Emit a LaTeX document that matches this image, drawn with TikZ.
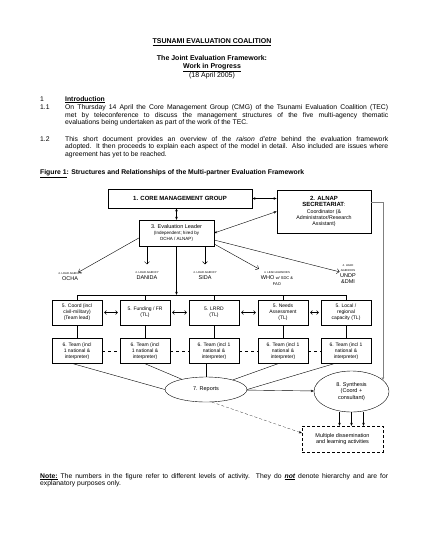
\documentclass[tikz,border=0pt]{standalone}
\usepackage{fontspec}
\setmainfont{Liberation Sans}
\usetikzlibrary{shapes.geometric,arrows.meta}
\newcommand\sz[2]{\fontsize{#1}{#2}\selectfont}
\newcommand\lead[1]{{\sz{2.8}{3.2}4. LEAD #1}}
\tikzset{
  box/.style={draw,align=center,inner sep=1pt,minimum width=50pt,minimum height=25pt,font=\sz{5}{6}},
  bigbox/.style={draw,line width=0.8pt,align=center,inner sep=1pt},
  agency/.style={align=center,inner sep=0.5pt,font=\sz{5.5}{6}},
  para/.style={anchor=north west,inner sep=0pt,text width=323pt,align=justify,font=\sz{6.8}{7.6}},
  txt/.style={anchor=base west,inner sep=0pt,font=\sz{6.8}{7.6}},
  open/.style={-{Straight Barb[length=2.5pt]}},
  pair/.style={{Straight Barb[length=2pt]}-{Straight Barb[length=2pt]},shorten <=2pt,shorten >=2pt},
}
\begin{document}
\begin{tikzpicture}[x=1pt,y=-1pt,>={Stealth[length=3pt,width=2.5pt]},thin]
\path[fill=white] (0,0) rectangle (425,550);
% heading
\node[anchor=base,inner sep=0pt,font=\bfseries\sz{7}{8}] (title) at (212,43.5) {\underline{TSUNAMI EVALUATION COALITION}};
\node[anchor=base,inner sep=0pt,font=\bfseries\sz{7}{8}] (sub) at (212,60.5) {The Joint Evaluation Framework:};
\node[anchor=base,inner sep=0pt,font=\bfseries\sz{7}{8}] (wip) at (212,68.5) {\underline{Work in Progress}};
\node[anchor=base,inner sep=0pt,font=\sz{7}{8}] (date) at (212,77) {(18 April 2005)};
% section 1
\node[txt] (n1) at (40,101) {1};
\node[txt] (intro) at (65,101) {\textbf{\underline{Introduction}}};
\node[txt] (n11) at (40,109.5) {1.1};
\node[para] (p11) at (65,104.5) {On Thursday 14 April the Core Management Group (CMG) of the Tsunami Evaluation Coalition (TEC)\linebreak
  met by teleconference to discuss the management structures of the five multi-agency thematic\linebreak
  evaluations being undertaken as part of the work of the TEC.};
\node[txt] (n12) at (40,141) {1.2};
\node[para] (p12) at (65,136) {This short document provides an overview of the \textit{raison d'etre} behind the evaluation framework\linebreak
  adopted. It then proceeds to explain each aspect of the model in detail. Also included are issues where\linebreak
  agreement has yet to be reached.};
\node[txt,font=\bfseries\sz{6.8}{7.6}] (fig) at (40,174.5) {\underline{Figure 1}: Structures and Relationships of the Multi-partner Evaluation Framework};
% top of the framework
\node[bigbox,minimum width=144pt,minimum height=19pt,font=\bfseries\sz{6}{7}] (core) at (180,198.5) {1. CORE MANAGEMENT GROUP};
\node[bigbox,minimum width=94pt,minimum height=43pt,font=\sz{5.3}{6.3}] (alnap) at (324,211.5)
  {\textbf{\sz{6}{7}2. ALNAP}\\\textbf{\sz{6}{7}SECRETARIAT}:\\Coordinator (\&\\Administrator/Research\\Assistant)};
\node[draw,align=center,inner sep=1pt,minimum width=75pt,minimum height=26pt,font=\sz{5.5}{6.3}] (eval) at (176.5,233)
  {3. Evaluation Leader\\{\sz{4.5}{5.5}(Independent; hired by}\\{\sz{4.5}{5.5}OCHA / ALNAP)}};
\draw[<->] (core.east) -- (core.east -| alnap.west);
\draw[<->] (core.south -| eval.north) -- (eval.north);
\draw[<->] (alnap.west) -- (eval.east);
% lead agencies
\node[agency] (ocha) at (70,277) {\lead{AGENCY}\\OCHA};
\node[agency] (danida) at (147,276) {\lead{AGENCY}\\DANIDA};
\node[agency] (sida) at (205,276) {\lead{AGENCY}\\SIDA};
\node[agency] (who) at (277,279) {\lead{AGENCIES}\\WHO {\sz{4}{5}w/ SDC \&}\\{\sz{4}{5}FAO}};
\node[agency] (undp) at (348,274) {\lead{}\\[-1pt]{\sz{2.8}{3.2}AGENCIES}\\UNDP\\\&DMI};
\draw[open] ([yshift=-5pt]eval.west) -- (ocha);
\draw[open,shorten >=7pt] (eval.south -| danida) -- (danida);
\draw[open,shorten >=7pt] (eval.south -| sida) -- (sida);
\draw[open,shorten >=5pt] ([yshift=-11pt]eval.east) -- (who);
\draw[open] ([yshift=-7pt]eval.east) -- (undp);
% level 5 and 6
\foreach \nm/\x/\txt in {coord/77/{5. Coord (incl\\civil-military)\\(Team lead)},
    funding/145/{5. Funding / FR\\(TL)}, lrrd/214/{5. LRRD\\(TL)},
    needs/283/{5. Needs\\Assessment\\(TL)}, local/346/{5. Local /\\regional\\capacity (TL)}}
  \node[box] (\nm) at (\x,312.5) {\txt};
\foreach \i/\x/\txt in {1/77/{6. Team (incl\\1 national \&\\interpreter)},
    2/145/{6. Team (incl\\1 national \&\\interpreter)}, 3/214/{6. Team (incl 1\\national \&\\interpreter)},
    4/283/{6. Team (incl 1\\national \&\\interpreter)}, 5/346/{6. Team (incl 1\\national \&\\interpreter)}}
  \node[box] (team\i) at (\x,351) {\txt};
\draw (coord.north) -- ++(0,-5) -| (local.north);
\foreach \nm in {funding,lrrd,needs} \draw (\nm.north) -- ++(0,-5);
\draw[->] (eval.south) -- ([yshift=5pt]eval.south |- coord.north);
\foreach \a/\b in {coord/funding,funding/lrrd,lrrd/needs,needs/local} \draw[pair] (\a) -- (\b);
\foreach \i/\j in {1/2,2/3,3/4,4/5} \draw[dashed] (team\i) -- (team\j);
\foreach \nm [count=\i] in {coord,funding,lrrd,needs,local} \draw (\nm) -- (team\i);
% outputs
\node[draw,ellipse,minimum width=82pt,minimum height=25pt,inner sep=0pt,font=\sz{5.5}{6.5}] (reports) at (206,389.5) {7. Reports};
\node[draw,ellipse,minimum width=75pt,minimum height=41pt,inner sep=0pt,align=center,font=\sz{5.5}{6.5}] (synth) at (351.5,391.5)
  {8. Synthesis\\(Coord +\\consultant)};
\node[draw,densely dashed,minimum width=81pt,minimum height=26pt,inner sep=1pt,align=center,font=\sz{5.5}{6.5}] (multi) at (342.5,439)
  {Multiple dissemination\\and learning activities};
\draw ([xshift=-4pt]team1.south) -- (reports.west);
\draw (team2.south) -- (reports);
\draw (team3.south -| reports.north) -- (reports.north);
\draw ([xshift=-5pt]team4.south) -- (reports);
\draw ([xshift=-12pt]team5.south) -- (reports.east);
\draw[->] (reports) -- (synth);
\draw[->,densely dashed,very thin] (reports.-65) -- ([yshift=6pt]multi.west);
\foreach \dx in {-12,0,12} \draw[->] ([xshift=\dx pt]synth.south) -- ([xshift=\dx pt]synth.south |- multi.north);
\draw[->,gray] ([yshift=9pt]alnap.east) -| (synth.20);
% note
\node[para,text width=348pt] (note) at (40,473) {\textbf{\underline{Note:}} The numbers in the figure refer to different levels of activity. They do \textbf{\textit{\underline{not}}} denote hierarchy and are for\linebreak
  explanatory purposes only.};
\end{tikzpicture}
\end{document}
